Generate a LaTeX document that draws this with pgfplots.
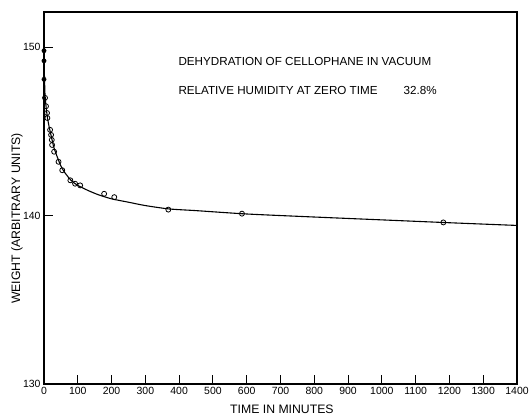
\documentclass[border=0pt]{standalone}
\usepackage{pgfplots}
\pgfplotsset{compat=1.18}
\usepackage{fontspec}
\setmainfont{Liberation Sans}
\begin{document}
\begin{tikzpicture}
\begin{axis}[
 scale only axis, width=473bp, height=372bp,
 xmin=0, xmax=1400, ymin=130, ymax=152.1,
 xtick={0,100,...,1400}, ytick={130,140,150},
 tick align=inside, xtick pos=bottom, ytick pos=left,
 major tick length=9bp,
 axis line style={line width=1.1pt},
 tick style={line width=0.9pt, black},
 ticklabel style={font=\fontsize{10.5}{12}\selectfont},
 /pgf/number format/assume math mode=true,
 /pgf/number format/1000 sep={},
 clip=false,
]
% fitted curve
\addplot[smooth, tension=0.4, line width=1.1pt, black] coordinates {
(0,150.0) (0.5,149.3) (1,148.6) (2,147.8) (3,147.2) (6,146.5) (10,145.85) (15,145.3) (20,144.85) (25,144.4) (30,144.0) (40,143.45) (50,142.95) (60,142.6) (80,142.1) (100,141.8) (130,141.5) (160,141.25) (200,141.0) (250,140.8) (300,140.6) (370,140.4) (450,140.3) (600,140.1) (800,139.92) (1000,139.75) (1200,139.58) (1400,139.42)
};
% open circles
\addplot[only marks, mark=o, mark size=2.5pt, mark options={line width=0.8pt, fill=white}, black] coordinates {
(3,147.0) (6,146.5) (9,146.1) (10,145.8) (18,145.1) (21,144.8) (23,144.5) (24,144.2) (30,143.8) (43,143.2) (54,142.7) (78,142.1) (92,141.9) (107,141.8) (178,141.3) (208,141.1) (368,140.36) (586,140.12) (1182,139.6)
};
% filled points
\addplot[only marks, mark=*, mark size=2.2pt, black] coordinates {
(0,149.8) (0,149.2) (0,148.1)
};
\node[anchor=west, font=\fontsize{11.7}{13}\selectfont] at (rel axis cs:0.277,0.866) {DEHYDRATION OF CELLOPHANE IN VACUUM};
\node[anchor=west, font=\fontsize{11.7}{13}\selectfont] at (rel axis cs:0.277,0.788) {RELATIVE HUMIDITY AT ZERO TIME\hspace{26bp}32.8\%};
\node[rotate=90, font=\fontsize{12.3}{14}\selectfont] at ([xshift=-27bp]rel axis cs:0,0.445) {WEIGHT (ARBITRARY UNITS)};
\node[font=\fontsize{12.3}{14}\selectfont] at ([yshift=-25bp]rel axis cs:0.503,0) {TIME IN MINUTES};
\end{axis}
\pgfresetboundingbox
\path ([shift={(-44bp,-34bp)}]current axis.south west) rectangle ([shift={(13bp,12bp)}]current axis.north east);
\end{tikzpicture}
\end{document}
